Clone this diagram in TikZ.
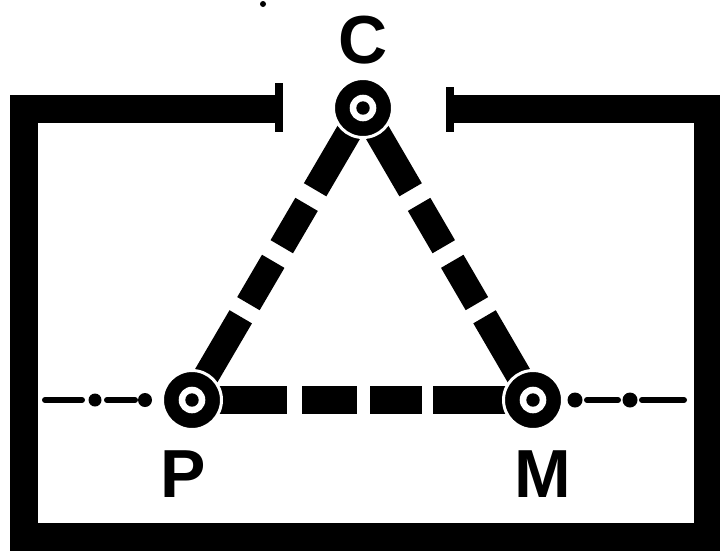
\documentclass[tikz,border=0pt]{standalone}
\usepackage{fontspec}
\setmainfont{Liberation Sans}
\usetikzlibrary{calc,backgrounds}
\begin{document}
\begin{tikzpicture}[x=1pt,y=-1pt,
  joint/.style={circle, fill=black, draw=white, line width=3pt, minimum size=59pt, inner sep=0pt,
    path picture={\fill[white] (path picture bounding box.center) circle (13.3pt);
                  \fill[black] (path picture bounding box.center) circle (6.7pt);}},
  lab/.style={inner sep=0pt, anchor=base, font=\fontsize{68}{68}\selectfont\bfseries},
  frame/.style={line width=28pt, line join=miter, line cap=butt},
  bar/.style={line cap=butt},
  axis/.style={line width=6pt, line cap=round},
  dotmark/.style={fill=black}]
\useasboundingbox (0,0) rectangle (720,550);
% frame
\draw[frame] (277,109) -- (23.5,109) -- (23.5,537) -- (708,537) -- (708,109) -- (450,109);
\fill (275,83) rectangle (283,132);
\fill (446,87) rectangle (454,132);
% speck
\fill (263,4) circle (3);
% joints
\node[joint] (C) at (363,108) {};
\node[joint] (P) at (192,400) {};
\node[joint] (M) at (533,400) {};
% labels
\node[lab] (Clab) at (363,63) {C};
\node[lab] (Plab) at (183,497) {P};
\node[lab] (Mlab) at (543,497) {M};
% free ends of axis
\coordinate (Lend) at (45,400);
\coordinate (Rend) at (684,400);
\begin{scope}[on background layer]
  \foreach \a/\b in {0/0.28,0.33/0.475,0.525/0.67,0.715/1}{
    \draw[bar, line width=26pt] ($(C.center)!\a!(P.center)$) -- ($(C.center)!\b!(P.center)$);
    \draw[bar, line width=26pt] ($(C.center)!\a!(M.center)$) -- ($(C.center)!\b!(M.center)$);
  }
  \foreach \a/\b in {0/0.28,0.323/0.484,0.522/0.674,0.707/1}{
    \draw[bar, line width=28pt] ($(P.center)!\a!(M.center)$) -- ($(P.center)!\b!(M.center)$);
  }
\end{scope}
% dash-dot axis
\draw[axis] (Lend) -- ($(Lend)+(37,0)$);
\fill[dotmark] ($(Lend)+(50,0)$) circle (6.5);
\draw[axis] ($(Lend)+(62,0)$) -- ($(P.center)+(-57,0)$);
\fill[dotmark] ($(P.center)+(-47,0)$) circle (7);
\fill[dotmark] ($(M.center)+(42,0)$) circle (7.5);
\draw[axis] ($(M.center)+(54,0)$) -- ($(M.center)+(85,0)$);
\fill[dotmark] ($(M.center)+(97,0)$) circle (7.5);
\draw[axis] ($(M.center)+(109,0)$) -- (Rend);
\end{tikzpicture}
\end{document}
